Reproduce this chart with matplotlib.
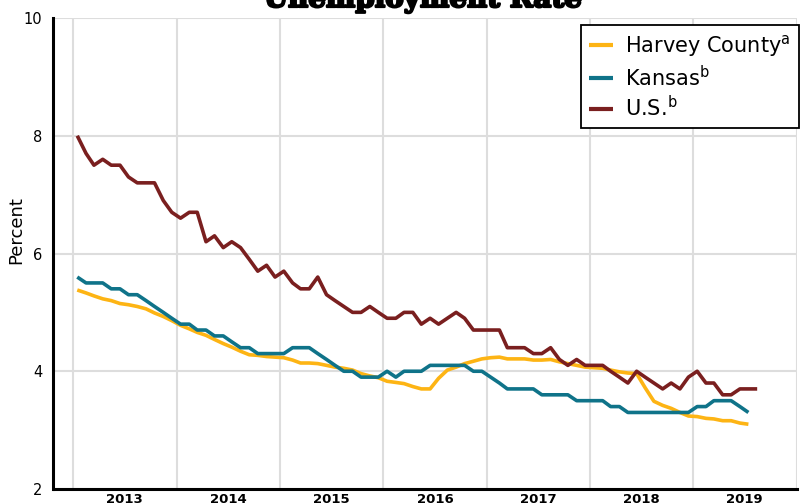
import matplotlib
matplotlib.use("Agg")
import matplotlib.pyplot as plt
import matplotlib.patheffects as pe
import numpy as np
import pandas as pd

plt.rcParams['font.family'] = ['DejaVu Sans']
plt.rcParams['mathtext.fontset'] = 'dejavusans'

start_month = "2013-01"

us = [8.0, 7.7, 7.5, 7.6, 7.5, 7.5, 7.3, 7.2, 7.2, 7.2, 6.9, 6.7,
      6.6, 6.7, 6.7, 6.2, 6.3, 6.1, 6.2, 6.1, 5.9, 5.7, 5.8, 5.6,
      5.7, 5.5, 5.4, 5.4, 5.6, 5.3, 5.2, 5.1, 5.0, 5.0, 5.1, 5.0,
      4.9, 4.9, 5.0, 5.0, 4.8, 4.9, 4.8, 4.9, 5.0, 4.9, 4.7, 4.7,
      4.7, 4.7, 4.4, 4.4, 4.4, 4.3, 4.3, 4.4, 4.2, 4.1, 4.2, 4.1,
      4.1, 4.1, 4.0, 3.9, 3.8, 4.0, 3.9, 3.8, 3.7, 3.8, 3.7, 3.9,
      4.0, 3.8, 3.8, 3.6, 3.6, 3.7, 3.7, 3.7]

kansas = [5.6, 5.5, 5.5, 5.5, 5.4, 5.4, 5.3, 5.3, 5.2, 5.1, 5.0, 4.9,
          4.8, 4.8, 4.7, 4.7, 4.6, 4.6, 4.5, 4.4, 4.4, 4.3, 4.3, 4.3,
          4.3, 4.4, 4.4, 4.4, 4.3, 4.2, 4.1, 4.0, 4.0, 3.9, 3.9, 3.9,
          4.0, 3.9, 4.0, 4.0, 4.0, 4.1, 4.1, 4.1, 4.1, 4.1, 4.0, 4.0,
          3.9, 3.8, 3.7, 3.7, 3.7, 3.7, 3.6, 3.6, 3.6, 3.6, 3.5, 3.5,
          3.5, 3.5, 3.4, 3.4, 3.3, 3.3, 3.3, 3.3, 3.3, 3.3, 3.3, 3.3,
          3.4, 3.4, 3.5, 3.5, 3.5, 3.4, 3.3]

harvey = [5.38, 5.33, 5.28, 5.23, 5.20, 5.15, 5.13, 5.10, 5.06, 4.99, 4.93, 4.86,
          4.78, 4.72, 4.66, 4.61, 4.54, 4.47, 4.41, 4.34, 4.28, 4.27, 4.25, 4.24,
          4.23, 4.19, 4.14, 4.14, 4.13, 4.10, 4.07, 4.05, 4.02, 3.96, 3.92, 3.89,
          3.83, 3.81, 3.79, 3.74, 3.70, 3.70, 3.88, 4.02, 4.07, 4.13, 4.17, 4.21,
          4.23, 4.24, 4.21, 4.21, 4.21, 4.19, 4.19, 4.20, 4.16, 4.13, 4.10, 4.07,
          4.06, 4.05, 4.02, 3.99, 3.97, 3.96, 3.72, 3.49, 3.42, 3.37, 3.30, 3.24,
          3.23, 3.20, 3.19, 3.16, 3.16, 3.12, 3.10]

years = [2013, 2014, 2015, 2016, 2017, 2018, 2019]
y_ticks = [2, 4, 6, 8, 10]

series = [("Harvey County$^{\\mathrm{a}}$", harvey, "#FDB414"),
          ("Kansas$^{\\mathrm{b}}$", kansas, "#0F7389"),
          ("U.S.$^{\\mathrm{b}}$", us, "#7A1F1F")]

W, H = 803, 504
fig = plt.figure(figsize=(W / 100, H / 100), dpi=100)
ax = fig.add_axes([53.5 / W, 1 - 489 / H, (796.5 - 53.5) / W, (489 - 18) / H])

for label, vals, color in series:
    dates = pd.date_range(start=start_month + "-01", periods=len(vals), freq="MS") + pd.Timedelta(days=14)
    ax.plot(dates, vals, color=color, lw=2.6, label=label, solid_capstyle='butt', zorder=3)

ax.set_ylim(2, 10)
ax.set_yticks(y_ticks)
ax.set_xlim(pd.Timestamp("2012-10-23"), pd.Timestamp("2020-01-01"))

ax.set_xticks([pd.Timestamp(f"{y}-07-02") for y in years])
ax.set_xticklabels([str(y) for y in years], fontsize=9.5, fontweight='bold')
ax.set_xticks([pd.Timestamp(f"{y}-01-01") for y in years + [years[-1] + 1]], minor=True)
ax.tick_params(axis='x', which='both', length=0, pad=3)
ax.tick_params(axis='y', length=0, pad=8, labelsize=10.5)

ax.grid(True, axis='y', which='major', color='#dddddd', lw=1.5, zorder=0)
ax.grid(True, axis='x', which='minor', color='#dddddd', lw=1.5, zorder=0)
ax.grid(False, axis='x', which='major')

for s in ['top', 'right']:
    ax.spines[s].set_visible(False)
for s in ['left', 'bottom']:
    ax.spines[s].set_linewidth(2.2)
    ax.spines[s].set_color('black')
    ax.spines[s].set_zorder(4)

ax.set_ylabel("Percent", fontsize=13)
ax.yaxis.set_label_coords((25 - 53.5) / (796.5 - 53.5), (489 - 230) / (489 - 18))

fig.text(423 / W, 1 - 7 / H, "Unemployment Rate", ha='center', va='baseline',
         fontsize=20, fontweight='bold', family='DejaVu Serif',
         path_effects=[pe.withStroke(linewidth=1.6, foreground='black')])

leg = ax.legend(loc='upper left', bbox_to_anchor=(581 / W, 1 - 25 / H),
                bbox_transform=fig.transFigure, fontsize=15, frameon=True,
                fancybox=False, edgecolor='black', framealpha=1,
                handlelength=1.15, handletextpad=0.55, borderpad=0.4,
                labelspacing=0.25, borderaxespad=0)
leg.get_frame().set_linewidth(1.3)
for line in leg.get_lines():
    line.set_linewidth(3)

fig.savefig("out.png", dpi=100)
